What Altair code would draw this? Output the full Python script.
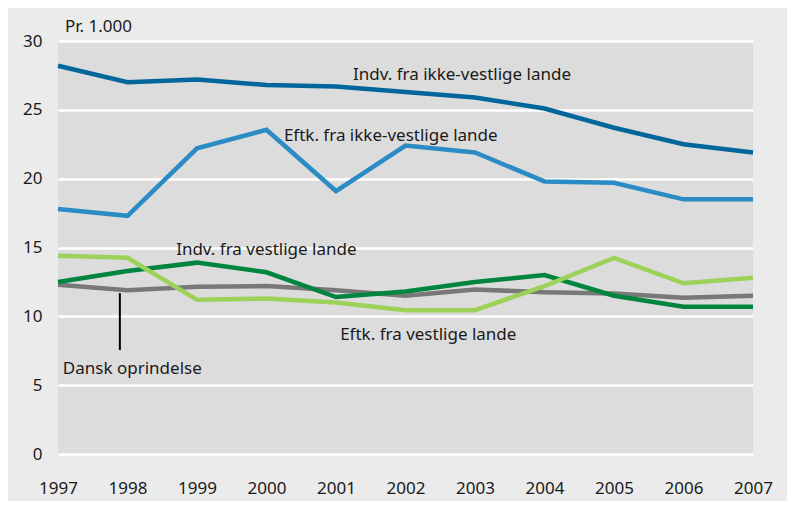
import altair as alt
import pandas as pd

years = list(range(1997, 2008))

series_names = [
    "Dansk oprindelse",
    "Indv. fra vestlige lande",
    "Eftk. fra vestlige lande",
    "Eftk. fra ikke-vestlige lande",
    "Indv. fra ikke-vestlige lande",
]
dansk = [12.3, 11.9, 12.15, 12.2, 11.9, 11.5, 11.95, 11.75, 11.65, 11.35, 11.5]
indv_vest = [12.5, 13.3, 13.9, 13.2, 11.4, 11.8, 12.5, 13.0, 11.5, 10.7, 10.7]
eftk_vest = [14.4, 14.25, 11.2, 11.3, 11.0, 10.45, 10.45, 12.2, 14.25, 12.4, 12.8]
eftk_ikke = [17.8, 17.3, 22.2, 23.55, 19.1, 22.4, 21.9, 19.8, 19.7, 18.5, 18.5]
indv_ikke = [28.2, 27.0, 27.2, 26.8, 26.7, 26.3, 25.9, 25.1, 23.7, 22.5, 21.9]
series_values = [dansk, indv_vest, eftk_vest, eftk_ikke, indv_ikke]
series_colors = ["#787878", "#00843f", "#9dd159", "#2b8bc4", "#00669b"]

# annotation labels (data coordinates)
label_texts = ["Pr. 1.000", "Indv. fra ikke-vestlige lande", "Eftk. fra ikke-vestlige lande",
               "Indv. fra vestlige lande", "Eftk. fra vestlige lande", "Dansk oprindelse"]
label_x = [1997.1, 2001.245, 2000.25, 1998.7, 2001.06, 1997.07]
label_y = [30.65, 27.2, 22.75, 14.45, 8.28, 5.81]

# leader line for "Dansk oprindelse"
leader_x = [1997.89]
leader_y = [11.69]
leader_y2 = [7.55]

y_ticks = [0, 5, 10, 15, 20, 25, 30]

rows = []
for name, vals in zip(series_names, series_values):
    for yr, v in zip(years, vals):
        rows.append({"year": yr, "value": v, "series": name})
df = pd.DataFrame(rows)

labels_df = pd.DataFrame({"text": label_texts, "x": label_x, "y": label_y})
leader_df = pd.DataFrame({"x": leader_x, "y": leader_y, "y2": leader_y2})

FONT = "Noto Sans"

xscale = alt.Scale(domain=[1997, 2007], nice=False, zero=False)
yscale = alt.Scale(domain=[0, 30], nice=False)

lines = alt.Chart(df).mark_line(strokeWidth=4.5, clip=False).encode(
    x=alt.X("year:Q", scale=xscale,
            axis=alt.Axis(values=years, format="d", title=None, grid=False, ticks=False,
                          domain=False, labelFontSize=17, labelFont=FONT, labelColor="#1a1a1a",
                          labelPadding=26, labelFlush=False, labelOverlap=False)),
    y=alt.Y("value:Q", scale=yscale,
            axis=alt.Axis(values=y_ticks, title=None, grid=True, gridColor="white",
                          gridWidth=2.5, gridOpacity=1, ticks=False, domain=False,
                          labelFontSize=17, labelFont=FONT, labelColor="#1a1a1a",
                          labelPadding=16, labelFlush=False)),
    color=alt.Color("series:N", scale=alt.Scale(domain=series_names, range=series_colors),
                    legend=None),
    order=alt.Order("year:Q"),
)

texts = alt.Chart(labels_df).mark_text(
    align="left", baseline="alphabetic", font=FONT, fontSize=17, color="#1a1a1a"
).encode(
    x=alt.X("x:Q", scale=xscale),
    y=alt.Y("y:Q", scale=yscale),
    text="text:N",
)

leader = alt.Chart(leader_df).mark_rule(color="black", strokeWidth=2).encode(
    x=alt.X("x:Q", scale=xscale),
    y=alt.Y("y:Q", scale=yscale),
    y2="y2:Q",
)

chart = alt.layer(lines, leader, texts).properties(
    width=695,
    height=413,
    background="#ebebeb",
    padding={"left": 50, "top": 33, "right": 34, "bottom": 47},
    autosize=alt.AutoSizeParams(type="none"),
).configure_view(fill="#dcdcdc", strokeWidth=0)

chart.save("out.html", embed_options={"renderer": "svg", "actions": False})
